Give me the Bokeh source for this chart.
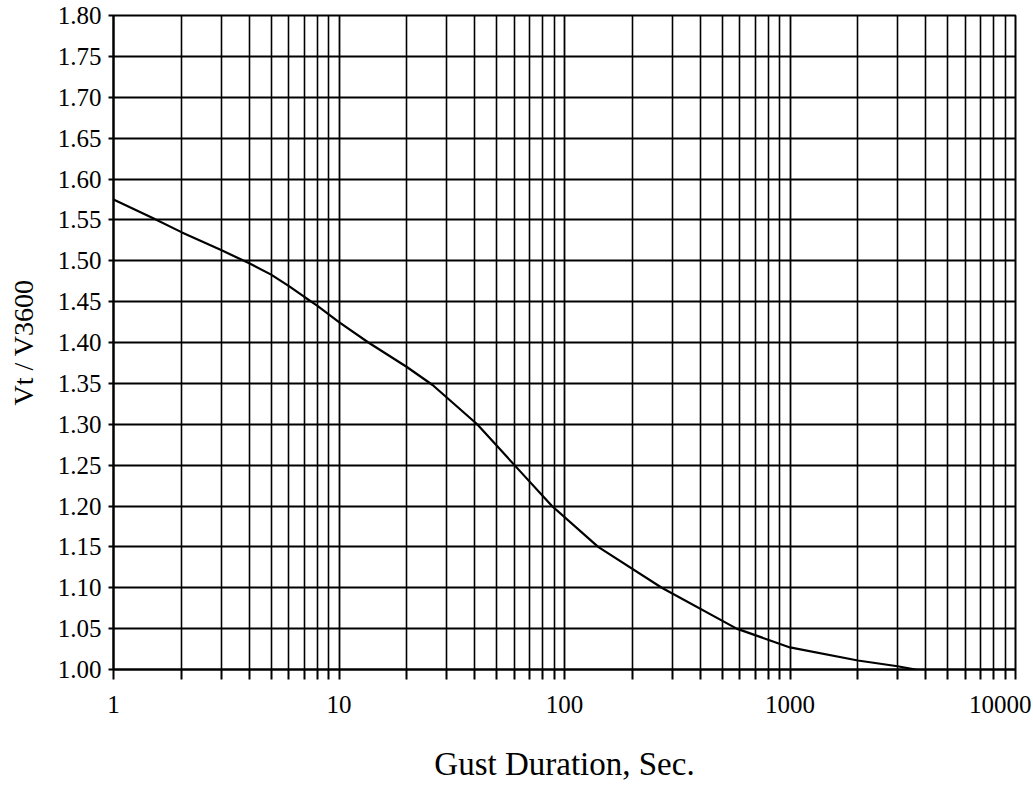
from bokeh.plotting import figure
from bokeh.models import FixedTicker, NumeralTickFormatter, Range1d
from bokeh.embed import file_html
from bokeh.resources import INLINE

# Data
duration_s = [1, 1.5, 2, 3, 4, 5, 6, 7, 8, 10, 13.5, 20, 26, 41, 60, 88,
              141, 270, 580, 1000, 2000, 3000, 3600]
gust_factor = [1.575, 1.552, 1.535, 1.513, 1.497, 1.483, 1.469, 1.456, 1.445,
               1.425, 1.40, 1.37, 1.348, 1.30, 1.25, 1.20, 1.15, 1.10, 1.05,
               1.027, 1.011, 1.004, 1.00]

x_ticks = [1, 10, 100, 1000, 10000]
x_minor = [m * d for d in [1, 10, 100, 1000] for m in range(2, 10)]
y_ticks = [1.00, 1.05, 1.10, 1.15, 1.20, 1.25, 1.30, 1.35, 1.40, 1.45, 1.50,
           1.55, 1.60, 1.65, 1.70, 1.75, 1.80]

FONT = "Liberation Serif"

p = figure(frame_width=902, frame_height=654,
           x_axis_type="log", x_range=Range1d(1, 10000), y_range=Range1d(1.0, 1.8),
           output_backend="svg", toolbar_location=None,
           min_border_left=113, min_border_right=16, min_border_top=15,
           min_border_bottom=116, background_fill_color="white",
           border_fill_color="white")

p.outline_line_color = "black"
p.outline_line_width = 2

p.xaxis.ticker = FixedTicker(ticks=x_ticks, minor_ticks=x_minor)
p.xaxis.formatter = NumeralTickFormatter(format="0")
p.yaxis.ticker = FixedTicker(ticks=y_ticks)
p.yaxis.formatter = NumeralTickFormatter(format="0.00")

for ax in (p.xaxis[0], p.yaxis[0]):
    ax.axis_line_color = "black"
    ax.axis_line_width = 2
    ax.major_tick_line_color = "black"
    ax.major_tick_line_width = 2
    ax.minor_tick_line_color = "black"
    ax.minor_tick_line_width = 2
    ax.major_label_text_font = FONT
    ax.major_label_text_font_size = "25px"
    ax.major_label_text_color = "black"
    ax.axis_label_text_font = FONT
    ax.axis_label_text_font_style = "normal"
    ax.axis_label_text_color = "black"

p.xaxis.major_tick_out = 10
p.xaxis.minor_tick_out = 10
p.xaxis.major_tick_in = 0
p.xaxis.minor_tick_in = 0
p.xaxis.major_label_standoff = 16
p.xaxis.axis_label = "Gust Duration, Sec."
p.xaxis.axis_label_text_font_size = "33px"
p.xaxis.axis_label_standoff = 30

p.yaxis.major_tick_out = 5
p.yaxis.major_tick_in = 0
p.yaxis.minor_tick_out = 0
p.yaxis.minor_tick_in = 0
p.yaxis.major_label_standoff = 7
p.yaxis.axis_label = "Vt / V3600"
p.yaxis.axis_label_text_font_size = "28px"
p.yaxis.axis_label_standoff = 16

p.xgrid.grid_line_color = "black"
p.xgrid.grid_line_width = 1.8
p.xgrid.minor_grid_line_color = "black"
p.xgrid.minor_grid_line_width = 1.6
p.ygrid.grid_line_color = "black"
p.ygrid.grid_line_width = 1.8

p.line(duration_s, gust_factor, line_color="black", line_width=2.2)

open("out.html", "w").write(file_html(p, INLINE))
